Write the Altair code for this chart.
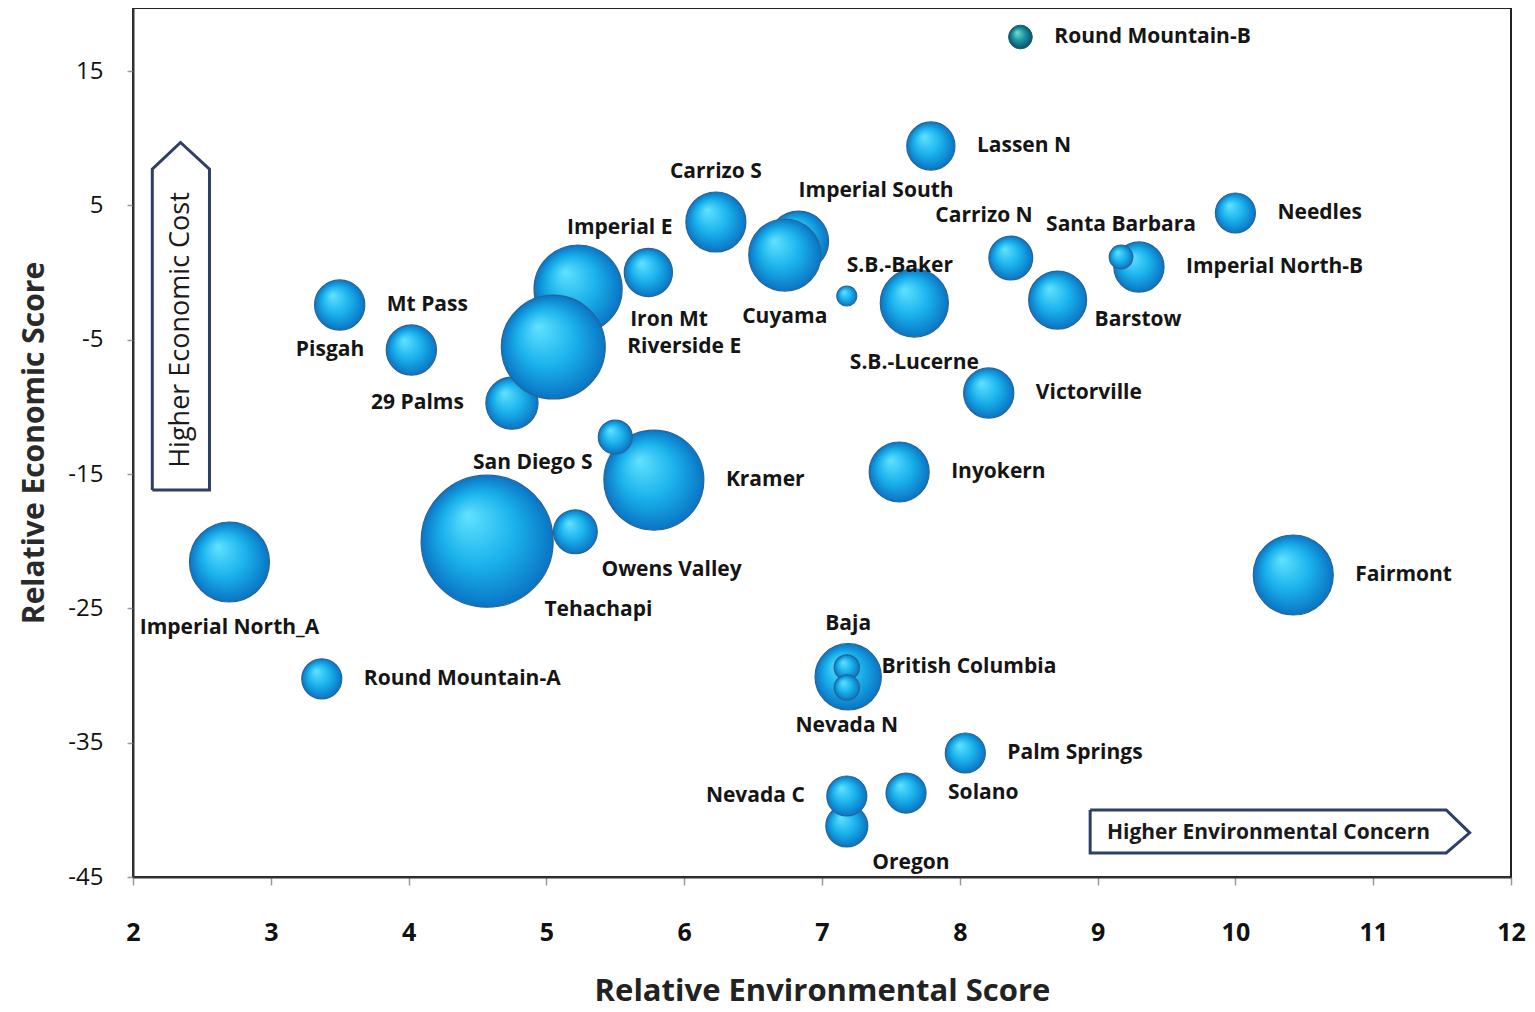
import altair as alt
import pandas as pd

# ---------------- data ----------------
names = ["Tehachapi", "Owens Valley", "Imperial North_A", "Round Mountain-A", "Kramer",
         "San Diego S", "Iron Mt", "29 Palms", "Riverside E", "Imperial E", "Carrizo S",
         "Imperial South", "Cuyama", "S.B.-Baker", "S.B.-Lucerne", "Mt Pass", "Pisgah",
         "Lassen N", "Round Mountain-B", "Carrizo N", "Barstow", "Imperial North-B",
         "Santa Barbara", "Needles", "Victorville", "Inyokern", "Fairmont", "Baja",
         "British Columbia", "Nevada N", "Palm Springs", "Solano", "Oregon", "Nevada C"]
env_score = [4.57, 5.21, 2.70, 3.37, 5.78,
             5.50, 5.23, 4.75, 5.05, 5.74, 6.23,
             6.83, 6.73, 7.18, 7.67, 3.50, 4.02,
             7.79, 8.44, 8.37, 8.71, 9.30,
             9.17, 10.00, 8.21, 7.56, 10.42, 7.19,
             7.18, 7.18, 8.04, 7.61, 7.18, 7.18]
econ_score = [-20.0, -19.3, -21.55, -30.25, -15.45,
              -12.25, -1.23, -9.72, -5.55, 0.0, 3.76,
              2.34, 1.30, -1.75, -2.27, -2.42, -5.77,
              9.42, 17.53, 1.08, -2.05, 0.41,
              1.15, 4.43, -8.97, -14.85, -22.52, -30.1,
              -29.4, -30.9, -35.77, -38.75, -41.2, -38.97]
bubble_size = [43.6, 4.8, 16.0, 4.0, 25.0,
               2.9, 19.4, 6.8, 27.0, 5.8, 9.0,
               9.0, 13.0, 1.0, 11.6, 6.3, 6.3,
               5.8, 1.4, 4.8, 8.4, 6.3,
               1.4, 4.0, 6.3, 9.0, 16.0, 11.0,
               1.6, 1.6, 4.0, 4.0, 4.4, 4.0]
label_side = ["br", "br", "b", "r", "r",
              "bl", "rb", "l", "r", "tl", "t",
              "tr", "b", "tr", "b", "r", "l",
              "r", "r", "tl", "rb", "r",
              "t", "r", "r", "r", "r", "t",
              "r", "b", "r", "r", "br", "l"]

# annotation arrows (data units)
arrow_id = ["econ"] * 6 + ["env"] * 6
arrow_pt = list(range(6)) + list(range(6))
arrow_x = [2.14, 2.14, 2.345, 2.555, 2.555, 2.14,
           8.946, 11.53, 11.70, 11.53, 8.946, 8.946]
arrow_y = [-16.2, 7.7, 9.68, 7.7, -16.2, -16.2,
           -40.01, -40.01, -41.71, -43.21, -43.21, -40.01]
note_v_text = ["Higher Economic Cost"]
note_v_x = [2.345]
note_v_y = [-4.28]
note_h_text = ["Higher Environmental Concern"]
note_h_x = [10.24]
note_h_y = [-41.71]

# ---------------- layout ----------------
W, H = 1378, 869
X_DOMAIN = [2, 12]
Y_DOMAIN = [-45, 19.69]
PXX = W / (X_DOMAIN[1] - X_DOMAIN[0])
PXY = H / (Y_DOMAIN[1] - Y_DOMAIN[0])
FONT = "Open Sans"

df = pd.DataFrame(dict(name=names, env=env_score, econ=econ_score,
                       size=bubble_size, side=label_side))
arrows = pd.DataFrame(dict(id=arrow_id, pt=arrow_pt, ax=arrow_x, ay=arrow_y))
notes_v = pd.DataFrame(dict(t=note_v_text, nx=note_v_x, ny=note_v_y))
notes_h = pd.DataFrame(dict(t=note_h_text, nx=note_h_x, ny=note_h_y))

xscale = alt.Scale(domain=X_DOMAIN, nice=False, zero=False)
yscale = alt.Scale(domain=Y_DOMAIN, nice=False, zero=False)
sscale = alt.Scale(domain=[0, 50], range=[0, 20000], zero=True)

xaxis = alt.Axis(values=list(range(2, 13)), title="Relative Environmental Score",
                 grid=False, tickSize=8, tickColor="#9a9a9a", tickWidth=1.5,
                 domainColor="#333333", domainWidth=2,
                 labelFont=FONT, labelFontSize=25, labelFontWeight="bold",
                 labelColor="#111111", labelPadding=35, labelFlush=False,
                 labelExpr="'' + datum.value",
                 titleFont=FONT, titleFontSize=31, titleFontWeight="bold",
                 titleColor="#222222", titlePadding=31)
yaxis = alt.Axis(values=[-45, -35, -25, -15, -5, 5, 15], title="Relative Economic Score",
                 grid=False, tickSize=6, tickColor="#9a9a9a", tickWidth=1.5,
                 domainColor="#333333", domainWidth=2,
                 labelFont=FONT, labelFontSize=24, labelFontWeight="normal",
                 labelColor="#111111", labelPadding=24, labelFlush=False,
                 labelExpr="'' + datum.value",
                 titleFont=FONT, titleFontSize=30, titleFontWeight="bold",
                 titleColor="#2a2a2a", titlePadding=18)


def X(f):
    return alt.X(f, type="quantitative", scale=xscale, axis=xaxis)


def Y(f):
    return alt.Y(f, type="quantitative", scale=yscale, axis=yaxis)


blue_grad = {"gradient": "radial", "x1": 0.35, "y1": 0.3, "r1": 0.0,
             "x2": 0.5, "y2": 0.5, "r2": 0.5,
             "stops": [{"offset": 0, "color": "#62e2ff"},
                       {"offset": 0.55, "color": "#1ab2ec"},
                       {"offset": 1, "color": "#0a74c4"}]}
teal_grad = {"gradient": "radial", "x1": 0.35, "y1": 0.3, "r1": 0.0,
             "x2": 0.5, "y2": 0.5, "r2": 0.5,
             "stops": [{"offset": 0, "color": "#7fe0c8"},
                       {"offset": 0.5, "color": "#1c9aa4"},
                       {"offset": 1, "color": "#0c4f6e"}]}

base = alt.Chart(df)

bubbles = base.transform_filter("datum.name != 'Round Mountain-B'").mark_circle(
    fill=blue_grad, opacity=1, fillOpacity=1, stroke="#2a6494", strokeWidth=1.2
).encode(x=X("env"), y=Y("econ"),
         size=alt.Size("size:Q", scale=sscale, legend=None))

rmb = base.transform_filter("datum.name == 'Round Mountain-B'").mark_circle(
    fill=teal_grad, opacity=1, fillOpacity=1, stroke="#1d5a6a", strokeWidth=1
).encode(x=X("env"), y=Y("econ"),
         size=alt.Size("size:Q", scale=sscale, legend=None))

lab = base.transform_calculate(
    rad="10*sqrt(datum.size)"
).transform_calculate(
    ox="datum.side=='r' ? datum.rad+22 : datum.side=='l' ? -(datum.rad+22) : "
       "datum.side=='br' ? 0.707*(datum.rad+15) : datum.side=='bl' ? -0.707*(datum.rad+15) : "
       "datum.side=='rb' ? datum.rad+8 : datum.side=='tl' ? datum.rad : 0",
    oy="(datum.side=='t' || datum.side=='tr' || datum.side=='tl') ? -(datum.rad+20) : "
       "datum.side=='b' ? datum.rad+26 : "
       "datum.side=='br' ? 0.707*(datum.rad+15)+12 : "
       "datum.side=='bl' ? 0.707*(datum.rad+15)+3 : "
       "datum.side=='rb' ? 0.7*datum.rad : 0",
    al="(datum.side=='r' || datum.side=='br' || datum.side=='tr' || datum.side=='rb') ? 'left' : "
       "(datum.side=='l' || datum.side=='bl' || datum.side=='tl') ? 'right' : 'center'"
).transform_calculate(
    lx=f"datum.env + datum.ox/{PXX}",
    ly=f"datum.econ - datum.oy/{PXY}"
)

label_layers = []
for a in ["left", "right", "center"]:
    label_layers.append(
        lab.transform_filter(f"datum.al == '{a}'").mark_text(
            align=a, baseline="middle", font=FONT, fontSize=21,
            fontWeight="bold", color="#151515"
        ).encode(x=X("lx"), y=Y("ly"), text="name:N")
    )

arrow_layer = alt.Chart(arrows).mark_line(
    stroke="#2e3f66", strokeWidth=3, strokeJoin="miter"
).encode(x=X("ax"), y=Y("ay"), detail="id:N", order="pt:Q")

note_v = alt.Chart(notes_v).mark_text(
    angle=270, font=FONT, fontSize=27, color="#1a1a1a", align="center", baseline="middle"
).encode(x=X("nx"), y=Y("ny"), text="t:N")

note_h = alt.Chart(notes_h).mark_text(
    font=FONT, fontSize=21, fontWeight="bold", color="#1a1a1a", align="center", baseline="middle"
).encode(x=X("nx"), y=Y("ny"), text="t:N")

chart = alt.layer(
    arrow_layer, note_v, note_h, bubbles, rmb, *label_layers
).properties(
    width=W, height=H,
    autosize=alt.AutoSizeParams(type="none"),
    padding={"left": 125, "top": 0, "right": 16, "bottom": 140},
    background="white"
).configure_view(stroke="#222222", strokeWidth=2)

chart.save("out.html", embed_options={"renderer": "svg", "actions": False})
